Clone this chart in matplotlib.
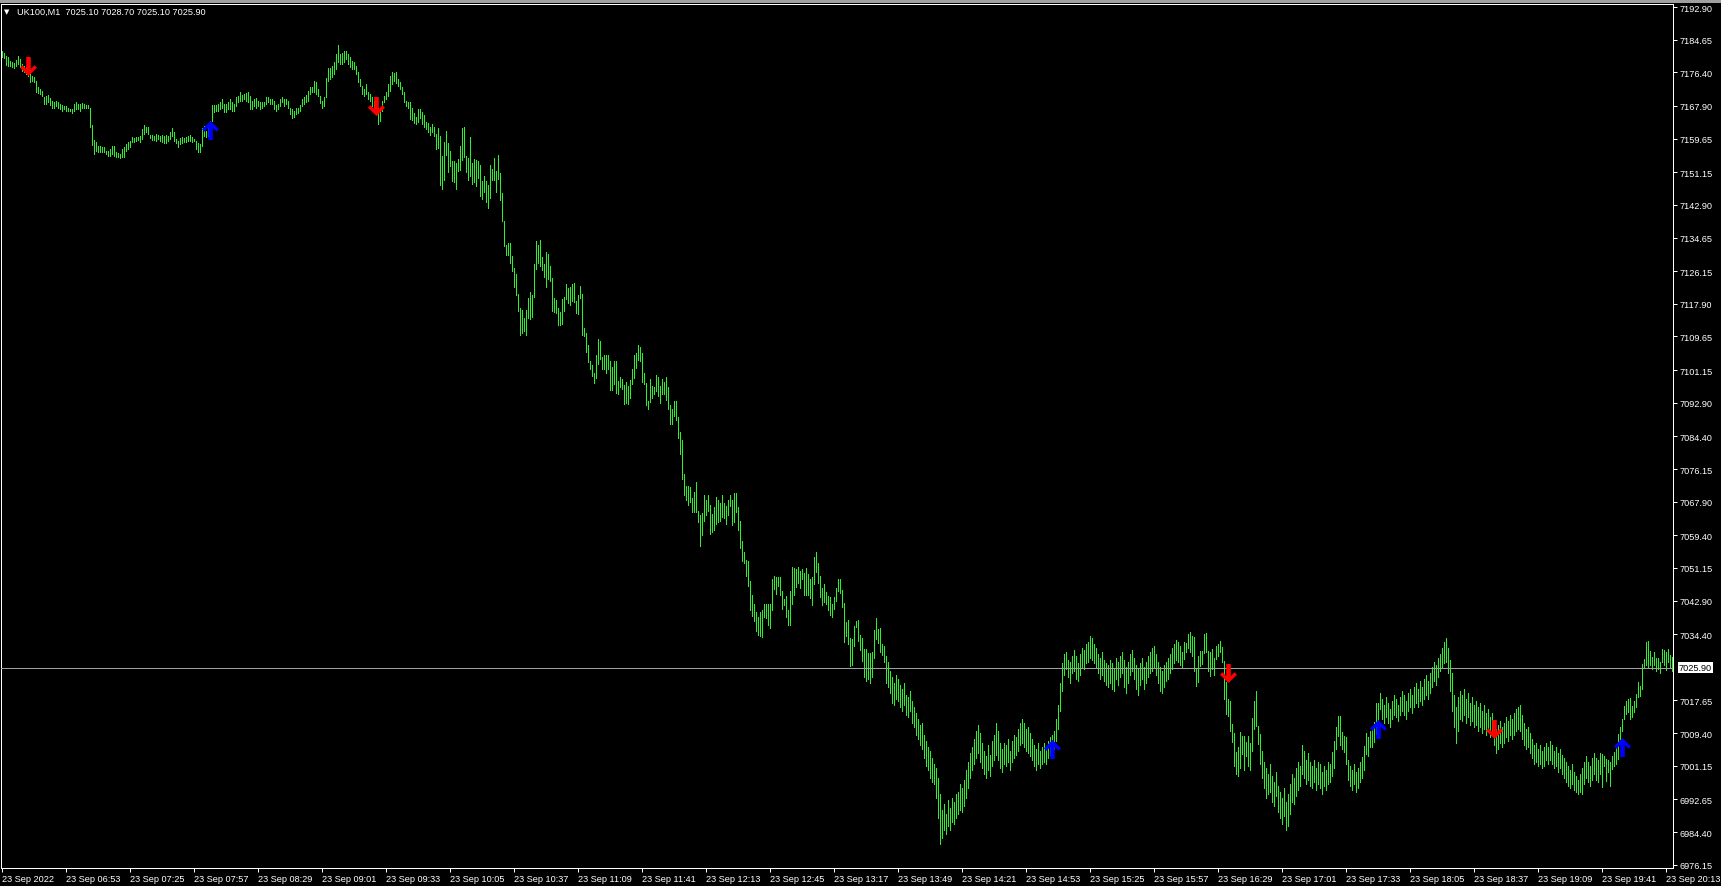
import numpy as np
import matplotlib.pyplot as plt
from matplotlib.path import Path
from matplotlib import transforms

# M1 bars, one per minute from 06:21 (high / low)
high = [
    7181.7, 7181.3, 7180.6, 7180.2, 7179.3, 7179.1, 7178.7, 7179.6, 7180.6, 7179.8,
    7178.5, 7178.1, 7177.7, 7176.8, 7176.0, 7175.5, 7175.1, 7174.3, 7172.6, 7172.3,
    7171.7, 7170.1, 7170.5, 7170.7, 7169.8, 7169.2, 7169.0, 7169.2, 7168.8, 7168.4,
    7168.1, 7168.0, 7168.0, 7167.5, 7167.1, 7167.1, 7168.4, 7168.8, 7168.4, 7168.4,
    7168.6, 7168.4, 7168.1, 7168.1, 7167.5, 7163.1, 7159.4, 7158.9, 7157.9, 7157.7,
    7157.4, 7157.4, 7156.6, 7156.6, 7157.0, 7157.9, 7157.7, 7156.3, 7156.0, 7155.7,
    7157.0, 7157.4, 7158.3, 7158.7, 7159.1, 7160.0, 7159.7, 7160.0, 7160.0, 7160.4,
    7162.1, 7163.1, 7162.7, 7162.5, 7160.5, 7160.5, 7160.4, 7160.8, 7160.5, 7160.4,
    7160.5, 7160.4, 7160.5, 7160.4, 7161.2, 7162.2, 7161.4, 7159.5, 7159.1, 7159.7,
    7160.0, 7159.7, 7160.0, 7160.4, 7160.5, 7160.0, 7159.5, 7159.1, 7158.5, 7158.3,
    7162.2, 7162.9, 7161.6, 7162.5, 7164.2, 7168.1, 7168.1, 7168.1, 7168.4, 7169.0,
    7169.7, 7168.4, 7168.4, 7168.8, 7169.7, 7168.8, 7168.4, 7170.1, 7170.5, 7171.3,
    7170.7, 7170.9, 7171.2, 7171.5, 7170.5, 7169.2, 7169.7, 7169.8, 7169.2, 7168.8,
    7169.0, 7169.0, 7170.1, 7170.1, 7169.7, 7169.7, 7169.2, 7168.1, 7168.4, 7169.7,
    7170.1, 7169.7, 7169.7, 7169.2, 7167.5, 7167.1, 7166.7, 7167.3, 7167.5, 7168.1,
    7169.7, 7170.1, 7170.7, 7171.8, 7172.6, 7172.6, 7174.3, 7173.9, 7172.3, 7170.5,
    7169.2, 7170.1, 7174.9, 7177.4, 7177.4, 7178.1, 7178.9, 7181.0, 7183.3, 7181.0,
    7181.4, 7181.9, 7181.9, 7181.0, 7180.2, 7179.3, 7178.9, 7178.1, 7176.4, 7174.7,
    7173.0, 7172.3, 7173.4, 7171.3, 7170.9, 7170.1, 7169.2, 7168.4, 7167.5, 7167.1,
    7169.2, 7170.5, 7171.5, 7173.4, 7175.4, 7176.4, 7176.2, 7176.4, 7174.7, 7173.9,
    7172.6, 7171.3, 7169.2, 7168.8, 7169.0, 7167.5, 7166.1, 7165.0, 7167.1, 7167.0,
    7166.3, 7165.6, 7163.9, 7163.6, 7162.5, 7163.3, 7162.7, 7160.8, 7162.2, 7160.2,
    7155.3, 7158.7, 7161.6, 7158.5, 7156.6, 7154.1, 7154.1, 7153.5, 7154.5, 7157.9,
    7162.2, 7162.7, 7155.3, 7154.7, 7160.0, 7153.5, 7154.5, 7154.3, 7154.1, 7153.0,
    7149.0, 7150.1, 7148.9, 7147.9, 7153.0, 7152.0, 7154.7, 7151.5, 7155.5, 7151.0,
    7145.9, 7138.8, 7132.8, 7133.3, 7133.3, 7130.1, 7127.0, 7125.4, 7120.4, 7116.8,
    7116.4, 7114.3, 7116.4, 7119.4, 7121.0, 7120.0, 7128.0, 7133.8, 7132.8, 7134.0,
    7129.6, 7128.0, 7131.0, 7130.5, 7127.4, 7124.4, 7119.4, 7118.9, 7116.8, 7115.7,
    7119.1, 7119.7, 7122.9, 7121.9, 7122.2, 7122.9, 7123.1, 7118.5, 7120.0, 7122.4,
    7120.4, 7111.8, 7110.5, 7107.5, 7103.4, 7102.5, 7100.4, 7105.0, 7109.0, 7108.6,
    7104.5, 7105.0, 7105.0, 7105.0, 7103.5, 7101.9, 7103.5, 7103.5, 7098.3, 7099.3,
    7098.9, 7097.5, 7098.1, 7097.0, 7098.6, 7101.4, 7105.0, 7105.5, 7107.5, 7107.1,
    7105.5, 7100.4, 7097.9, 7093.3, 7098.9, 7097.2, 7096.8, 7100.0, 7099.5, 7097.0,
    7098.9, 7098.1, 7099.3, 7096.8, 7092.2, 7091.2, 7093.4, 7093.4, 7089.2, 7085.5,
    7083.6, 7074.9, 7071.8, 7071.9, 7071.7, 7068.7, 7070.4, 7072.8, 7065.6, 7064.5,
    7065.0, 7069.6, 7068.3, 7069.6, 7067.1, 7064.8, 7066.5, 7069.2, 7068.4, 7067.6,
    7069.6, 7067.6, 7066.9, 7068.3, 7069.6, 7068.3, 7070.1, 7070.1, 7066.6, 7062.9,
    7057.9, 7055.3, 7053.2, 7052.8, 7047.8, 7044.3, 7042.0, 7039.9, 7038.7, 7039.9,
    7040.5, 7042.0, 7042.0, 7042.0, 7042.0, 7048.4, 7049.0, 7048.8, 7048.8, 7048.8,
    7045.3, 7043.3, 7044.1, 7040.6, 7045.2, 7051.3, 7051.1, 7050.9, 7051.3, 7050.5,
    7050.9, 7049.9, 7051.1, 7049.6, 7048.4, 7048.8, 7053.8, 7055.1, 7052.4, 7049.0,
    7046.0, 7047.1, 7045.0, 7044.1, 7043.7, 7042.0, 7043.7, 7046.0, 7048.4, 7048.4,
    7045.6, 7042.2, 7037.4, 7038.0, 7033.4, 7033.2, 7036.4, 7037.8, 7038.0, 7034.3,
    7033.4, 7030.7, 7030.7, 7029.6, 7029.7, 7029.8, 7035.5, 7038.4, 7035.7, 7036.0,
    7031.9, 7031.3, 7028.8,
    7027.5, 7025.0, 7023.5, 7022.0, 7024.0, 7023.0, 7021.5,
    7020.5, 7022.0, 7019.0, 7018.5, 7020.0, 7017.5, 7016.0, 7014.5, 7013.0, 7011.5,
    7012.0, 7009.0, 7007.5, 7006.0, 7005.0, 7003.0, 7001.5, 7000.5, 6998.0, 6994.0,
    6990.0, 6991.5, 6989.0, 6992.5, 6990.5, 6993.0, 6992.0, 6994.0, 6994.5, 6996.5,
    6995.5, 6997.5, 7000.0, 7002.0, 7004.5, 7006.0, 7008.0, 7010.0, 7011.5, 7009.5,
    7007.0, 7005.0, 7003.5, 7006.5, 7004.0, 7007.5, 7009.0, 7012.0, 7010.0, 7007.0,
    7005.5, 7007.0, 7006.5, 7008.0, 7005.0, 7007.5, 7009.0, 7008.5, 7010.5, 7012.0,
    7013.0, 7012.0, 7010.5, 7011.0, 7009.5, 7008.0, 7006.5, 7005.5, 7007.0, 7005.0,
    7006.0, 7007.0, 7006.0, 7007.5, 7008.5, 7009.0, 7010.0, 7013.0, 7016.5, 7022.0,
    7027.0, 7029.5, 7030.0, 7028.0, 7027.5, 7029.0, 7030.5, 7029.0, 7027.0, 7029.5,
    7031.0, 7030.5, 7032.0, 7032.5, 7034.0, 7033.5, 7032.0, 7031.0, 7029.5, 7028.5,
    7030.0, 7028.0, 7027.0, 7026.5, 7028.0, 7027.0, 7025.5, 7028.5, 7027.5, 7029.0,
    7030.0, 7028.0, 7026.0, 7027.5, 7029.5, 7030.5, 7028.5, 7026.5, 7025.5, 7027.0,
    7028.5, 7026.0, 7027.5, 7029.0, 7030.0, 7031.0, 7031.5, 7029.5, 7027.5, 7026.0,
    7025.0, 7026.5, 7027.5, 7028.5, 7029.5, 7031.0, 7032.0, 7033.0, 7032.5, 7031.5,
    7029.8, 7032.5, 7032.2, 7034.5, 7035.0, 7034.0, 7033.8, 7025.8, 7029.0, 7030.2,
    7030.2, 7034.5, 7034.8, 7030.2, 7030.0, 7030.7, 7028.3, 7031.5, 7031.9, 7032.8,
    7031.1, 7027.7, 7022.2, 7018.0, 7017.6, 7011.7, 7009.4, 7004.6, 7005.8, 7009.6,
    7008.8, 7008.8, 7007.1, 7008.8, 7006.9, 7013.1, 7017.6, 7020.0, 7011.1, 7009.2,
    7005.0, 7002.0, 7000.5, 6999.0, 7001.5, 6998.5, 6997.0, 6999.5, 6996.0, 6994.5,
    6993.0, 6995.5, 6992.0, 6994.0, 6996.5, 6999.0, 6998.0, 7000.5, 7002.0, 7001.0,
    7006.4, 7005.0, 7002.5, 7004.4, 7002.0, 7001.0, 7002.5, 7000.5, 7002.0, 7001.5,
    6999.5, 7001.0, 7000.0, 7002.0, 7001.5, 7004.6, 7007.5, 7010.9, 7013.7, 7013.7,
    7009.6, 7008.8, 7008.4, 7002.5, 7001.0, 7000.0, 7001.5, 6999.5, 7000.5, 7002.0,
    7003.3, 7006.2, 7009.4, 7008.4, 7010.0, 7010.5, 7012.1, 7017.0, 7017.0, 7019.5,
    7018.0, 7016.5, 7018.5, 7017.0, 7015.5, 7017.5, 7019.0, 7018.0, 7016.5, 7018.5,
    7020.0, 7019.0, 7017.5, 7019.5, 7020.5, 7019.0, 7021.0, 7022.0, 7020.5, 7022.5,
    7021.0, 7023.0, 7024.0, 7022.5, 7024.5, 7026.0, 7027.5, 7026.5, 7028.5, 7029.5,
    7031.0, 7032.5, 7033.5, 7031.0, 7028.0, 7024.5, 7019.0, 7016.0, 7018.5, 7020.0,
    7019.0, 7020.5, 7018.0, 7019.5, 7017.0, 7018.5, 7016.5, 7017.5, 7016.0, 7017.0,
    7015.0, 7016.5, 7014.5, 7015.5, 7013.5, 7014.5, 7012.5, 7010.5, 7011.5, 7012.5,
    7011.0, 7012.0, 7013.5, 7012.5, 7014.0, 7013.0, 7014.5, 7015.5, 7016.0, 7016.5,
    7014.0, 7012.0, 7010.5, 7011.0, 7009.5, 7008.0, 7006.5, 7007.0, 7005.5, 7006.5,
    7005.0, 7006.0, 7007.0, 7006.0, 7007.5, 7006.5, 7005.0, 7006.0, 7004.5, 7005.5,
    7004.0, 7003.0, 7002.0, 7001.0, 7000.0, 7001.5, 6999.5, 6998.5, 6997.5, 6999.0,
    7000.5, 7002.0, 7003.5, 7002.0, 7001.0, 7003.0, 7004.5, 7003.0, 7002.5, 7004.5,
    7004.1, 7003.7, 7002.9, 7002.7, 7002.0, 7003.7, 7004.6, 7006.7, 7009.2, 7010.9,
    7013.0, 7016.3, 7017.6, 7018.0, 7018.2, 7016.3, 7017.6, 7019.3, 7022.2, 7021.4,
    7026.9, 7028.1, 7032.5, 7032.8, 7030.2, 7028.6, 7030.0, 7028.3, 7028.3, 7027.3,
    7030.7, 7030.5, 7030.0, 7030.7, 7029.2, 7028.7,
]
low = [
    7180.2, 7179.9, 7178.2, 7178.1, 7177.9, 7177.7, 7177.4, 7178.1, 7178.5, 7177.7,
    7176.8, 7176.4, 7176.0, 7175.4, 7173.9, 7174.3, 7174.0, 7171.3, 7171.2, 7170.9,
    7170.5, 7168.4, 7168.4, 7168.8, 7168.1, 7167.5, 7167.5, 7168.0, 7167.5, 7167.0,
    7166.7, 7167.0, 7166.7, 7166.7, 7166.5, 7166.1, 7166.7, 7167.1, 7167.1, 7166.7,
    7167.3, 7167.5, 7167.3, 7167.5, 7162.5, 7158.0, 7155.7, 7156.6, 7156.3, 7156.3,
    7156.2, 7156.2, 7155.7, 7155.3, 7155.2, 7155.7, 7155.3, 7154.9, 7154.9, 7154.7,
    7154.9, 7154.9, 7156.6, 7157.0, 7157.4, 7158.7, 7158.9, 7159.1, 7159.4, 7158.9,
    7159.5, 7160.8, 7161.4, 7160.8, 7159.7, 7159.4, 7159.4, 7159.1, 7159.5, 7159.1,
    7158.7, 7158.5, 7158.5, 7159.1, 7159.5, 7160.2, 7159.1, 7158.5, 7157.4, 7158.3,
    7158.5, 7158.7, 7158.7, 7159.1, 7159.1, 7158.7, 7159.1, 7157.0, 7156.3, 7156.3,
    7157.9, 7160.4, 7160.0, 7160.4, 7160.8, 7164.2, 7166.3, 7166.7, 7166.7, 7167.1,
    7167.5, 7166.3, 7166.3, 7167.1, 7167.1, 7166.7, 7166.7, 7168.0, 7168.8, 7169.2,
    7169.2, 7169.7, 7169.2, 7168.8, 7167.1, 7167.1, 7168.0, 7167.5, 7168.0, 7167.1,
    7167.5, 7168.0, 7168.4, 7168.8, 7168.4, 7168.4, 7167.1, 7166.5, 7167.0, 7168.0,
    7168.8, 7168.0, 7168.4, 7167.5, 7165.9, 7164.8, 7165.0, 7165.9, 7166.1, 7166.7,
    7168.0, 7168.4, 7168.8, 7169.2, 7170.9, 7171.3, 7171.3, 7170.9, 7170.3, 7168.6,
    7167.3, 7168.0, 7170.1, 7174.3, 7174.7, 7175.1, 7176.0, 7177.2, 7178.9, 7178.5,
    7178.5, 7178.9, 7179.8, 7178.5, 7177.7, 7177.2, 7177.2, 7176.0, 7173.9, 7173.0,
    7170.9, 7170.5, 7170.9, 7169.7, 7169.2, 7168.0, 7167.1, 7165.9, 7163.3, 7164.2,
    7166.7, 7168.8, 7169.7, 7170.3, 7171.8, 7173.4, 7174.3, 7173.7, 7173.0, 7172.2,
    7170.9, 7168.8, 7168.0, 7167.5, 7164.6, 7164.4, 7163.6, 7163.3, 7163.9, 7164.8,
    7163.3, 7162.5, 7162.1, 7161.4, 7160.6, 7161.2, 7160.2, 7157.0, 7157.2, 7147.9,
    7146.9, 7149.3, 7155.5, 7151.3, 7152.8, 7149.0, 7148.6, 7146.9, 7151.5, 7151.8,
    7154.3, 7154.9, 7151.3, 7149.3, 7150.1, 7148.2, 7148.8, 7147.6, 7149.6, 7145.2,
    7144.4, 7146.1, 7143.7, 7142.1, 7144.7, 7149.3, 7149.3, 7146.2, 7149.4, 7144.2,
    7138.7, 7132.4, 7130.2, 7130.2, 7128.2, 7126.3, 7122.2, 7120.2, 7116.2, 7110.1,
    7110.5, 7111.1, 7110.1, 7114.3, 7114.1, 7114.6, 7119.7, 7126.7, 7128.2, 7127.5,
    7126.5, 7124.7, 7122.2, 7124.2, 7123.7, 7116.1, 7115.7, 7115.6, 7112.6, 7112.6,
    7112.8, 7116.2, 7119.1, 7118.1, 7117.6, 7118.7, 7118.3, 7115.6, 7115.4, 7119.4,
    7110.1, 7109.8, 7105.8, 7103.1, 7101.3, 7099.7, 7097.9, 7099.1, 7102.6, 7104.0,
    7101.3, 7101.3, 7100.4, 7101.3, 7096.2, 7096.2, 7097.6, 7095.4, 7095.1, 7096.8,
    7096.4, 7092.6, 7092.8, 7092.6, 7094.1, 7097.6, 7099.2, 7101.7, 7103.8, 7103.4,
    7098.1, 7097.6, 7092.2, 7091.2, 7093.0, 7094.1, 7095.1, 7095.9, 7094.7, 7092.8,
    7095.1, 7095.1, 7093.7, 7091.2, 7087.5, 7087.5, 7089.6, 7088.6, 7084.0, 7080.0,
    7073.6, 7069.6, 7068.2, 7067.1, 7067.7, 7065.2, 7065.4, 7065.4, 7062.8, 7056.8,
    7059.5, 7063.1, 7064.4, 7065.6, 7059.7, 7060.2, 7060.8, 7062.3, 7062.8, 7063.1,
    7063.9, 7063.7, 7062.3, 7064.4, 7066.9, 7062.0, 7062.8, 7065.4, 7060.8, 7056.2,
    7052.8, 7052.4, 7049.2, 7046.5, 7040.4, 7039.1, 7037.8, 7035.3, 7034.2, 7033.9,
    7033.8, 7038.7, 7038.4, 7036.8, 7036.0, 7040.4, 7045.7, 7044.6, 7046.5, 7044.2,
    7040.8, 7041.8, 7038.7, 7036.8, 7036.8, 7042.0, 7044.4, 7046.3, 7047.3, 7046.0,
    7048.4, 7044.2, 7044.2, 7044.4, 7043.6, 7041.9, 7047.1, 7050.0, 7047.3, 7043.9,
    7041.8, 7042.6, 7042.0, 7040.4, 7039.3, 7038.8, 7040.8, 7042.9, 7045.2, 7044.7,
    7041.4, 7032.4, 7034.0, 7031.9, 7026.3, 7026.5, 7031.5, 7036.1, 7032.8, 7030.5,
    7027.7, 7023.5, 7022.5, 7023.0, 7022.0, 7023.5, 7028.3, 7033.2, 7032.2, 7030.0,
    7029.2, 7027.3, 7022.0,
    7021.0, 7019.5, 7017.0, 7016.5, 7018.0, 7017.5, 7016.0,
    7015.0, 7016.5, 7014.0, 7013.5, 7015.0, 7012.0, 7011.0, 7009.0, 7008.0, 7006.5,
    7005.5, 7003.0, 7001.0, 7000.0, 6998.0, 6997.0, 6996.5, 6993.0, 6988.0, 6981.5,
    6983.0, 6985.0, 6984.0, 6986.0, 6985.0, 6987.0, 6986.5, 6988.0, 6989.0, 6990.0,
    6989.5, 6991.0, 6993.0, 6995.5, 6998.0, 7000.0, 7001.5, 7003.0, 7004.5, 7002.0,
    7000.5, 6999.0, 6998.0, 7000.0, 6998.5, 7001.0, 7002.5, 7004.0, 7002.5, 7000.5,
    6999.5, 7001.5, 7001.0, 7002.0, 7000.0, 7002.0, 7003.0, 7004.0, 7005.0, 7006.5,
    7007.0, 7006.0, 7005.0, 7004.5, 7003.5, 7002.5, 7001.0, 7000.0, 7001.5, 7000.5,
    7001.5, 7002.0, 7001.5, 7003.0, 7004.0, 7004.5, 7005.5, 7007.5, 7010.5, 7015.0,
    7020.0, 7024.0, 7025.5, 7023.5, 7022.0, 7024.5, 7025.0, 7023.0, 7022.5, 7024.0,
    7026.0, 7025.5, 7027.0, 7027.5, 7028.5, 7028.0, 7027.0, 7026.0, 7024.5, 7023.0,
    7024.0, 7022.5, 7021.5, 7021.0, 7022.0, 7020.5, 7020.0, 7023.0, 7021.5, 7023.5,
    7024.5, 7021.0, 7019.5, 7022.0, 7024.0, 7025.0, 7023.0, 7020.5, 7019.0, 7021.5,
    7023.0, 7020.5, 7022.0, 7023.5, 7024.5, 7025.0, 7026.0, 7024.0, 7022.0, 7020.0,
    7019.5, 7021.0, 7022.5, 7023.0, 7024.5, 7025.5, 7027.0, 7028.0, 7027.5, 7026.5,
    7026.0, 7028.1, 7029.8, 7030.8, 7030.0, 7028.8, 7025.2, 7021.2, 7022.2, 7026.3,
    7026.9, 7029.7, 7029.8, 7025.2, 7023.8, 7025.6, 7024.1, 7028.1, 7029.0, 7029.8,
    7027.3, 7018.0, 7014.2, 7013.8, 7010.0, 7007.1, 7001.0, 6999.0, 6998.5, 7000.5,
    7004.1, 7000.0, 7003.7, 7001.0, 7000.0, 7005.0, 7010.4, 7011.3, 7006.7, 7001.5,
    6998.0, 6995.5, 6993.0, 6994.0, 6994.5, 6992.0, 6991.0, 6993.5, 6989.5, 6988.0,
    6986.5, 6988.5, 6985.0, 6986.0, 6989.0, 6992.0, 6991.5, 6993.5, 6995.0, 6996.0,
    6999.0, 6998.0, 6996.5, 6997.5, 6996.0, 6995.5, 6997.0, 6995.0, 6996.5, 6995.5,
    6994.0, 6996.0, 6995.0, 6996.5, 6997.0, 6998.5, 7000.5, 7005.4, 7008.8, 7006.3,
    7005.4, 7004.6, 7001.5, 6997.5, 6996.0, 6995.0, 6996.5, 6994.5, 6995.5, 6997.0,
    6998.0, 7000.0, 7004.1, 7003.7, 7005.8, 7005.8, 7007.1, 7009.2, 7010.9, 7015.5,
    7013.0, 7012.0, 7013.5, 7012.0, 7011.0, 7013.0, 7014.0, 7013.5, 7012.5, 7014.0,
    7015.0, 7014.0, 7013.0, 7015.0, 7016.0, 7014.5, 7016.0, 7017.0, 7016.0, 7017.5,
    7016.5, 7018.0, 7019.0, 7018.0, 7019.5, 7021.0, 7022.5, 7021.5, 7023.5, 7025.0,
    7026.0, 7027.0, 7027.5, 7024.5, 7020.0, 7015.0, 7011.0, 7007.0, 7010.0, 7013.0,
    7012.5, 7014.0, 7012.0, 7013.5, 7011.5, 7012.5, 7011.0, 7011.5, 7010.0, 7011.0,
    7009.5, 7010.5, 7009.0, 7010.0, 7008.5, 7009.0, 7006.5, 7004.5, 7005.5, 7007.0,
    7006.0, 7007.0, 7008.5, 7007.5, 7009.0, 7008.0, 7009.0, 7010.0, 7010.5, 7010.0,
    7008.0, 7006.5, 7005.5, 7006.0, 7004.5, 7003.0, 7001.5, 7002.0, 7001.0, 7001.5,
    7000.5, 7001.0, 7002.5, 7001.5, 7002.5, 7001.5, 7000.5, 7001.0, 6999.5, 7000.5,
    6999.0, 6998.0, 6997.0, 6996.0, 6995.5, 6996.5, 6995.0, 6994.5, 6994.0, 6994.5,
    6994.0, 6996.5, 6998.0, 6997.0, 6996.0, 6997.5, 6999.0, 6997.5, 6997.0, 6999.0,
    6995.7, 7001.2, 6997.4, 6999.5, 6996.0, 7000.3, 7001.2, 7001.6, 7002.9, 7007.9,
    7010.0, 7013.0, 7014.2, 7014.7, 7013.0, 7013.4, 7014.7, 7015.9, 7018.5, 7018.9,
    7020.6, 7026.0, 7026.5, 7026.0, 7026.5, 7025.6, 7026.5, 7025.2, 7025.6, 7024.6,
    7027.3, 7026.6, 7025.4, 7027.3, 7025.8, 7025.1,
]

n_bars = 836
start_minute = 6 * 60 + 21
time_labels = ["23 Sep 2022", "23 Sep 06:53", "23 Sep 07:25", "23 Sep 07:57", "23 Sep 08:29",
               "23 Sep 09:01", "23 Sep 09:33", "23 Sep 10:05", "23 Sep 10:37", "23 Sep 11:09",
               "23 Sep 11:41", "23 Sep 12:13", "23 Sep 12:45", "23 Sep 13:17", "23 Sep 13:49",
               "23 Sep 14:21", "23 Sep 14:53", "23 Sep 15:25", "23 Sep 15:57", "23 Sep 16:29",
               "23 Sep 17:01", "23 Sep 17:33", "23 Sep 18:05", "23 Sep 18:37", "23 Sep 19:09",
               "23 Sep 19:41", "23 Sep 20:13"]
price_ticks = [7192.90, 7184.65, 7176.40, 7167.90, 7159.65, 7151.15, 7142.90, 7134.65, 7126.15,
               7117.90, 7109.65, 7101.15, 7092.90, 7084.40, 7076.15, 7067.90, 7059.40, 7051.15,
               7042.90, 7034.40, 7017.65, 7009.40, 7001.15, 6992.65, 6984.40, 6976.15]
last_price = 7025.90
header = "UK100,M1  7025.10 7028.70 7025.10 7025.90"

# signal arrows: bar index, price at arrow centre, direction
sig_bar = [13, 104, 187, 525, 613, 688, 746, 810]
sig_price = [7177.9, 7161.8, 7167.8, 7005.5, 7024.5, 7010.4, 7010.5, 7005.8]
sig_up = [False, True, False, True, False, True, False, True]

bar_col = '#2cf02c'
font = ['Liberation Sans', 'DejaVu Sans']

W, H = 1721, 887
fig = plt.figure(figsize=(W / 100, H / 100), dpi=100, facecolor='black')
ax = fig.add_axes([1 / W, 1 - 869 / H, 1672 / W, 864 / H])
ax.set_facecolor('black')

# grey strip along the top of the window
fig.patches.append(plt.Rectangle((0, 1 - 4 / H), 1, 4 / H, transform=fig.transFigure,
                                 facecolor='#a0a0a0', edgecolor='none'))

x = np.arange(len(high))
ax.vlines(x, low, high, colors=bar_col, linewidth=0.72, antialiased=False, zorder=2)

ax.axhline(last_price, color='#a0a0a0', linewidth=0.72, zorder=3)

# arrows
dn = [(-2.3, 9.5), (2.3, 9.5), (2.3, -2.5), (6.0, 1.3), (8.5, -1.2), (0, -9.5),
      (-8.5, -1.2), (-6.0, 1.3), (-2.3, -2.5), (-2.3, 9.5)]
codes = [Path.MOVETO] + [Path.LINETO] * 8 + [Path.CLOSEPOLY]
down_arrow = Path(dn, codes)
up_arrow = Path([(a, -b) for a, b in dn], codes)
for b, p, u in zip(sig_bar, sig_price, sig_up):
    ax.plot(b, p, marker=up_arrow if u else down_arrow, markersize=13.7,
            color='#0000ff' if u else '#ff0000', markeredgewidth=0, linestyle='none', zorder=4)

ax.set_xlim(-0.25, n_bars - 0.25)
ax.set_ylim(6975.32, 7193.66)

for s in ax.spines.values():
    s.set_color('white')
    s.set_linewidth(0.72)

ax.yaxis.tick_right()
ax.set_yticks(price_ticks)
ax.set_yticklabels([f"{v:.2f}" for v in price_ticks], family=font)
ax.tick_params(axis='y', colors='white', length=2.8, width=0.72, pad=2.2, labelsize=6.6)

tick_min = [0] + [int(t[-5:-3]) * 60 + int(t[-2:]) - start_minute for t in time_labels[1:]]
ax.set_xticks(tick_min)
ax.set_xticklabels(time_labels, family=font, ha='left')
ax.tick_params(axis='x', colors='white', length=2.8, width=0.72, pad=1.5, labelsize=6.6)

# current price box on the price scale
trans = transforms.blended_transform_factory(ax.transAxes, ax.transData)
ax.text(1 + 6 / 1672, last_price, f"{last_price:.2f}", transform=trans, ha='left', va='center',
        color='black', fontsize=6.6, family=font, zorder=5, clip_on=False,
        bbox=dict(boxstyle='square,pad=0.12', facecolor='white', edgecolor='none'))

fig.text(4 / W, 1 - 12.5 / H, "\u25bc", color='white', fontsize=5, family=['DejaVu Sans'],
         va='center', ha='left')
fig.text(17 / W, 1 - 12.5 / H, header, color='white', fontsize=6.6, family=font,
         va='center', ha='left')

fig.savefig('out.png', dpi=100, facecolor='black')
